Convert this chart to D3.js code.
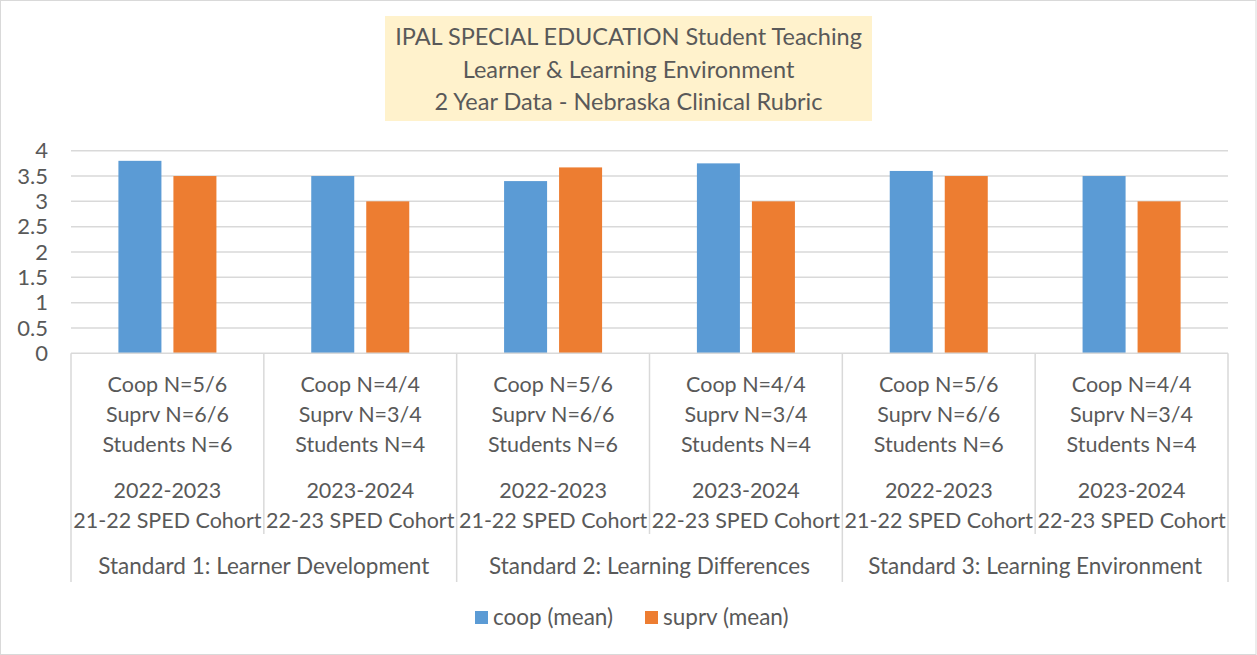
<!DOCTYPE html>
<html>
<head>
<meta charset="utf-8">
<style type="text/css">
body { margin: 0; background: #fff; }
text { font-family: Lato, "Open Sans", sans-serif; fill: #595959; }
.grid line { stroke: #d9d9d9; stroke-width: 1.5; }
.sep { stroke: #d9d9d9; stroke-width: 1.5; }
</style>
<script src="https://d3js.org/d3.v7.min.js"></script>
</head>
<body>
<script type="text/javascript">
var width  = 1257;
var height = 655;

var groups = ["Standard 1: Learner Development", "Standard 2: Learning Differences", "Standard 3: Learning Environment"];
var catLines = [
	["Coop N=5/6", "Suprv N=6/6", "Students N=6", "", "2022-2023", "21-22 SPED Cohort"],
	["Coop N=4/4", "Suprv N=3/4", "Students N=4", "", "2023-2024", "22-23 SPED Cohort"],
	["Coop N=5/6", "Suprv N=6/6", "Students N=6", "", "2022-2023", "21-22 SPED Cohort"],
	["Coop N=4/4", "Suprv N=3/4", "Students N=4", "", "2023-2024", "22-23 SPED Cohort"],
	["Coop N=5/6", "Suprv N=6/6", "Students N=6", "", "2022-2023", "21-22 SPED Cohort"],
	["Coop N=4/4", "Suprv N=3/4", "Students N=4", "", "2023-2024", "22-23 SPED Cohort"]
];
var coop  = [3.8, 3.5, 3.4, 3.75, 3.6, 3.5];
var suprv = [3.5, 3.0, 3.67, 3.0, 3.5, 3.0];
var seriesNames = ["coop (mean)", "suprv (mean)"];
var colors = ["#5b9bd5", "#ed7d31"];
var yTicks = [0, 0.5, 1, 1.5, 2, 2.5, 3, 3.5, 4];
var titleLines = ["IPAL SPECIAL EDUCATION Student Teaching", "Learner & Learning Environment", "2 Year Data - Nebraska Clinical Rubric"];

var plotLeft = 71, plotRight = 1228, plotTop = 150.7, plotBottom = 353.3;

var svg = d3.select("body").append("svg").attr("width", width).attr("height", height);
svg.append("rect").attr("x", 0.5).attr("y", 0.5).attr("width", width - 1.5).attr("height", height - 1)
	.attr("fill", "#fff").attr("stroke", "#d9d9d9");

var idx = d3.range(coop.length);
var x = d3.scaleBand().domain(idx).range([plotLeft, plotRight]).padding(0);
var xSub = d3.scaleBand().domain([0, 1]).range([0, x.bandwidth()]).paddingInner(0.218).paddingOuter(0.862);
var y = d3.scaleLinear().domain([0, 4]).range([plotBottom, plotTop]);

// gridlines
svg.append("g").attr("class", "grid").selectAll("line").data(yTicks.filter(function(d){ return d > 0; }))
	.enter().append("line")
	.attr("x1", plotLeft).attr("x2", plotRight)
	.attr("y1", function(d){ return y(d); }).attr("y2", function(d){ return y(d); });

// y axis labels
svg.append("g").selectAll("text").data(yTicks).enter().append("text")
	.attr("x", 48).attr("y", function(d){ return y(d); }).attr("dy", "0.35em")
	.attr("text-anchor", "end").style("font-size", "22px")
	.text(function(d){ return d; });

// bars
var series = [coop, suprv];
series.forEach(function(vals, s) {
	svg.append("g").selectAll("rect").data(vals).enter().append("rect")
		.attr("x", function(d, i){ return x(i) + xSub(s); })
		.attr("width", xSub.bandwidth())
		.attr("y", function(d){ return y(d); })
		.attr("height", function(d){ return plotBottom - y(d); })
		.attr("fill", colors[s]);
});

// category axis
svg.append("line").attr("class", "sep").attr("x1", plotLeft).attr("x2", plotRight).attr("y1", plotBottom).attr("y2", plotBottom);
d3.range(coop.length + 1).forEach(function(i) {
	var xx = i < coop.length ? x(i) : plotRight;
	svg.append("line").attr("class", "sep")
		.attr("x1", xx).attr("x2", xx).attr("y1", plotBottom)
		.attr("y2", i % 2 === 0 ? 582 : 534);
});

var lineY = [384, 414, 444, 459, 490, 520];
catLines.forEach(function(lines, i) {
	lines.forEach(function(t, k) {
		if (!t) return;
		svg.append("text").attr("x", x(i) + x.bandwidth() / 2).attr("y", lineY[k]).attr("dy", "0.35em")
			.attr("text-anchor", "middle").style("font-size", "21.5px").text(t);
	});
});
groups.forEach(function(g, j) {
	svg.append("text").attr("x", x(j * 2 + 1)).attr("y", 566).attr("dy", "0.35em")
		.attr("text-anchor", "middle").style("font-size", "22.5px").text(g);
});

// title
svg.append("rect").attr("x", 385).attr("y", 16).attr("width", 487).attr("height", 105).attr("fill", "#fff2cc");
titleLines.forEach(function(t, k) {
	svg.append("text").attr("x", 628.5).attr("y", 37 + k * 32.5).attr("dy", "0.35em")
		.attr("text-anchor", "middle").style("font-size", "23.5px").text(t);
});

// legend
var legX = [475, 645];
seriesNames.forEach(function(n, s) {
	svg.append("rect").attr("x", legX[s]).attr("y", 611).attr("width", 13).attr("height", 13).attr("fill", colors[s]);
	svg.append("text").attr("x", legX[s] + 18).attr("y", 617.5).attr("dy", "0.35em")
		.style("font-size", "22.5px").text(n);
});
</script>
</body>
</html>
